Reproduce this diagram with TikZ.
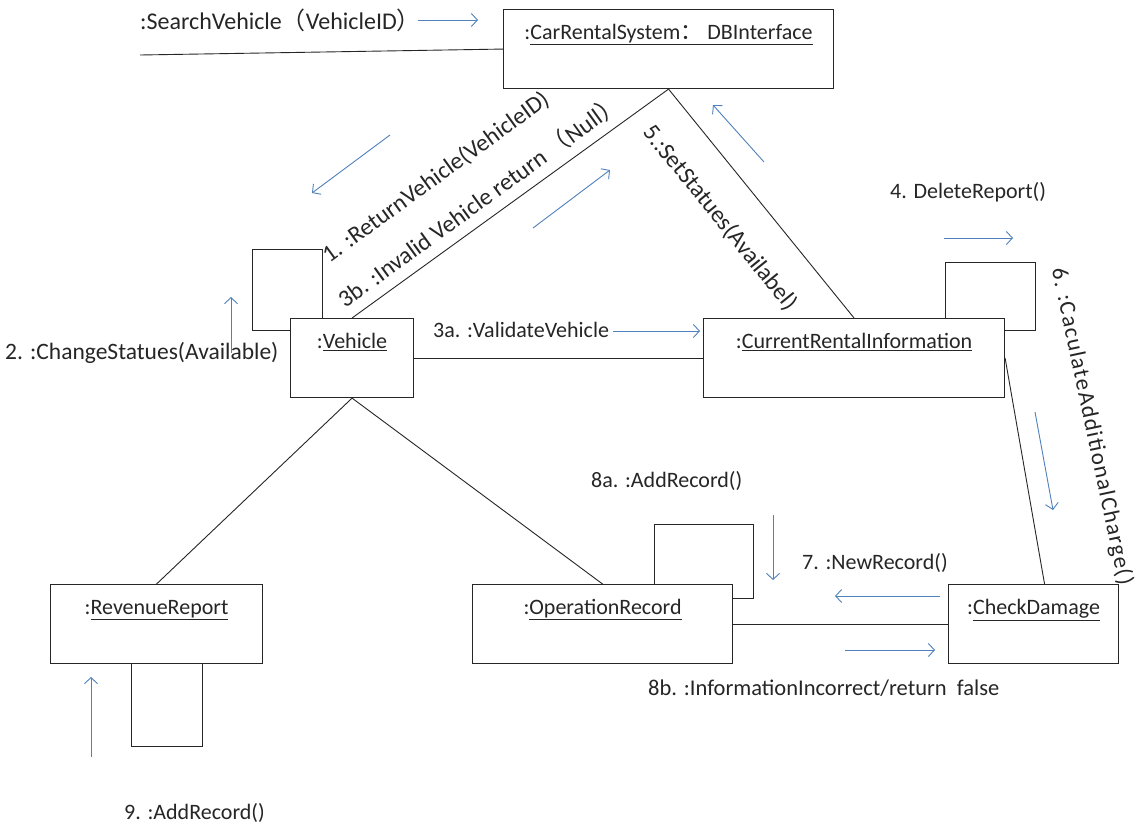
\documentclass[tikz,border=0pt]{standalone}
\usepackage{fontspec}
\setmainfont{Carlito}
\newfontfamily\cjk{Noto Sans CJK SC}
\newfontfamily\widefont[LetterSpace=6]{Carlito}
\usetikzlibrary{positioning,arrows.meta,calc}
\definecolor{MsgBlue}{HTML}{4F81BD}
\definecolor{InkGray}{HTML}{262626}

\begin{document}
\begin{tikzpicture}[x=1pt,y=-1pt,
    obj/.style={draw=InkGray,line width=1.1pt,rectangle,anchor=north west,
                inner sep=0pt,minimum height=79pt,text height=30pt,text depth=49pt,
                text=InkGray,font=\fontsize{22}{26}\selectfont},
    lbl/.style={inner sep=0pt,text=InkGray,font=\fontsize{22}{26}\selectfont},
    biglbl/.style={lbl,font=\fontsize{24}{28}\selectfont},
    link/.style={draw=InkGray,line width=0.9pt},
    msg/.style={draw=MsgBlue,line width=0.9pt,-{Straight Barb[length=6pt,width=13pt]}}]
  \useasboundingbox[fill=white] (0,0) rectangle (1137,828);

  % objects
  \node[obj,minimum width=330pt] (db)  at (503,9)   {:\underline{CarRentalSystem{\cjk ：} DBInterface}};
  \node[obj,minimum width=123pt] (veh) at (290,318) {:\underline{Vehicle}};
  \node[obj,minimum width=301pt] (cri) at (703,318) {:\underline{CurrentRentalInformation}};
  \node[obj,minimum width=212pt] (rr)  at (50,584)  {:\underline{RevenueReport}};
  \node[obj,minimum width=260pt] (opr) at (472,584) {:\underline{OperationRecord}};
  \node[obj,minimum width=170pt] (chk) at (948,584) {:\underline{CheckDamage}};

  % links
  \coordinate (sysin) at (140,55);
  \draw[link] (sysin) -- (db.west);
  \draw[link] (veh.north) -- (db.south)
      node[biglbl,sloped,pos=0.44,above=9pt] (invmsg) {3b. :Invalid Vehicle return {\cjk （}Null{\cjk ）}}
      node[biglbl,sloped,pos=0.385,above=54pt] (retmsg) {1. :ReturnVehicle(VehicleID)};
  \draw[link] (db.south) -- (cri.north)
      node[biglbl,sloped,pos=0.45,below=30pt] (setmsg) {5.:SetStatues(Availabel)};
  \draw[link] (veh.east) -- (cri.west);
  \draw[link] (cri.east) -- ($(chk.north)+(11,0)$);
  \draw[link] (veh.south) -- (rr.north);
  \draw[link] (veh.south) -- (opr.north);
  \draw[link] (opr.east) -- (chk.west);

  % self links
  \draw[link] ([xshift=32pt]veh.north west) -- ++(0,-69) -- ++(-70,0) -- ++(0,81) -- ++(38,0);
  \draw[link] ([xshift=-60pt]cri.north east) -- ++(0,-56) -- ++(90,0) -- ++(0,68) -- ++(-30,0);
  \draw[link] ([xshift=-79pt]opr.north east) -- ++(0,-60) -- ++(99,0) -- ++(0,74) -- ++(-20,0);
  \draw[link] ([xshift=81pt]rr.south west) -- ++(0,82) -- ++(71,0) -- ++(0,-82);

  % messages
  \node[biglbl,anchor=west] (searchmsg) at (140,20) {:SearchVehicle{\cjk （}VehicleID{\cjk ）}};
  \node[lbl,font=\fontsize{23.5}{28}\selectfont,anchor=west] (chgmsg) at (5,353) {2. :ChangeStatues(Available)};
  \node[lbl,anchor=west] (valmsg) at (433,330) {3a. :ValidateVehicle};
  \node[lbl,anchor=west] (delmsg) at (890,192) {4. DeleteReport()};
  \node[lbl,font=\fontsize{23}{27}\widefont,rotate=-78,anchor=west] (calcmsg) at (1058,268) {6. :CaculateAdditionalCharge()};
  \node[lbl,anchor=west] (newmsg) at (802,563) {7. :NewRecord()};
  \node[lbl,anchor=west] (addmsg) at (591,481) {8a. :AddRecord()};
  \node[lbl,font=\fontsize{22.5}{27}\selectfont,anchor=west] (falsemsg) at (648,688) {8b. :InformationIncorrect/return\ \ false};
  \node[lbl,anchor=west] (revmsg) at (124,813) {9. :AddRecord()};

  \draw[msg] (418,20) -- (478,20);
  \draw[msg] (390,135) -- (312,193);
  \draw[msg] (533,228) -- (610,170);
  \draw[msg] (764,162) -- (713,105);
  \draw[msg] (231,353) -- (231,297);
  \draw[msg] (613,331) -- (700,331);
  \draw[msg] (944,238) -- (1013,238);
  \draw[msg] (1035,412) -- (1053,510);
  \draw[msg] (773,515) -- (773,580);
  \draw[msg] (940,596) -- (835,596);
  \draw[msg] (845,650) -- (935,650);
  \draw[msg] (91,757) -- (91,677);
\end{tikzpicture}
\end{document}
